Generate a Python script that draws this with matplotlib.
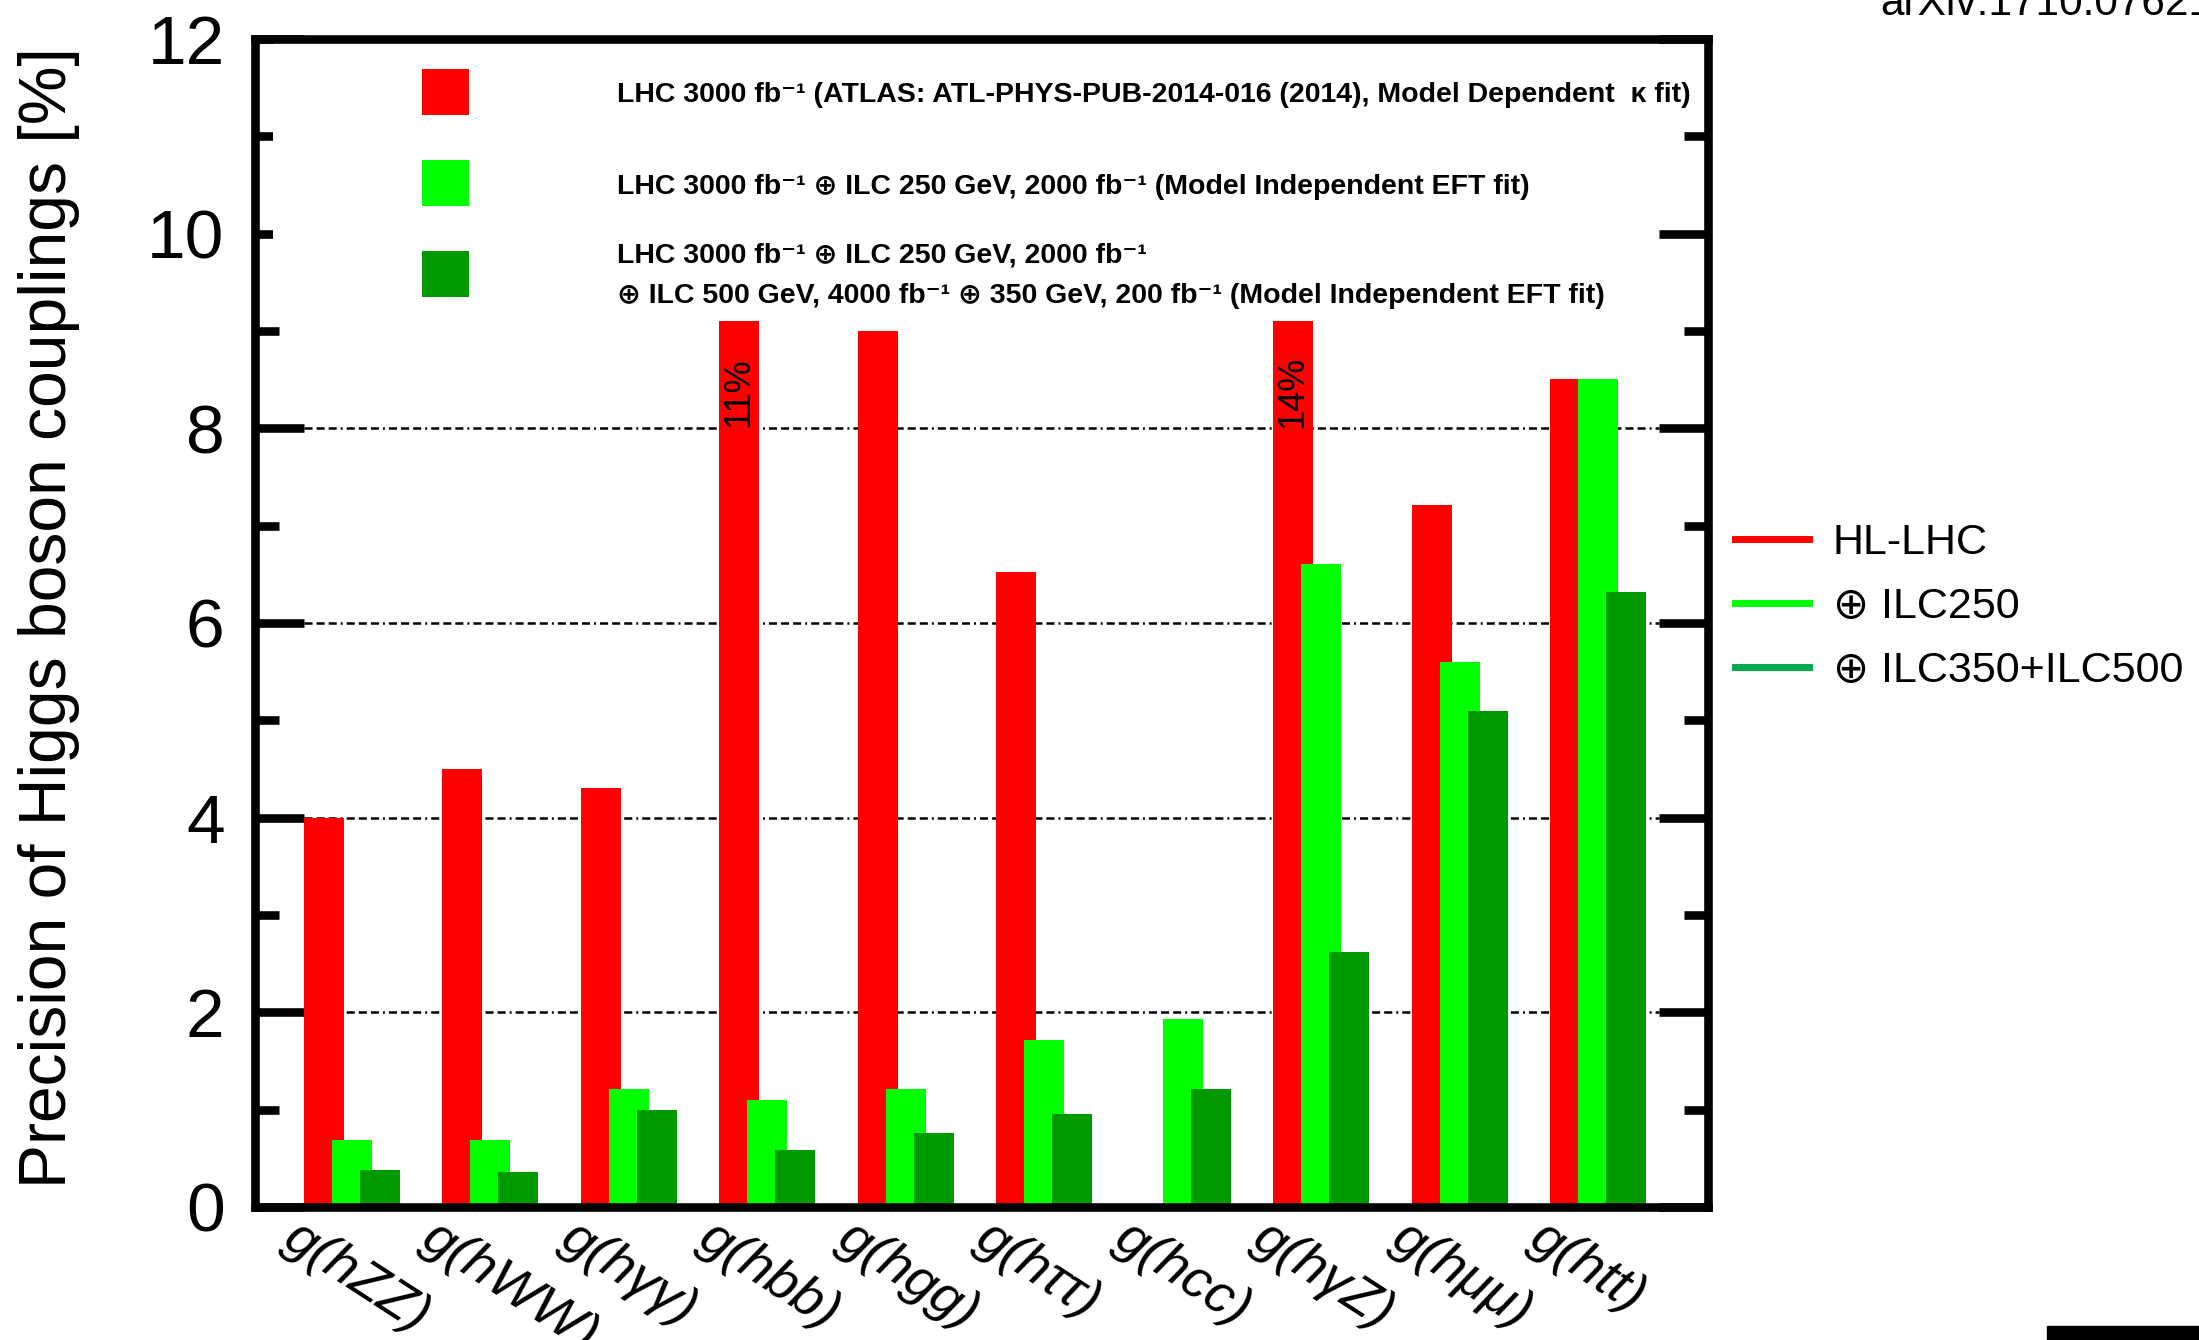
#!/usr/bin/env python3
# -*- coding: utf-8 -*-
"""
Precision of Higgs boson couplings: HL-LHC vs HL-LHC + ILC stages
"""

#%%
import numpy as np
import matplotlib as mpl
mpl.use('Agg')
import matplotlib.pyplot as plt
from matplotlib.lines import Line2D
from matplotlib.patches import Rectangle
from matplotlib.transforms import blended_transform_factory

mpl.rcParams.update({'font.family': ['Liberation Sans', 'DejaVu Sans'],
                     'lines.scale_dashes': False,
                     'axes.axisbelow': 'line'})

couplings = ['g(hZZ)', 'g(hWW)', 'g(hγγ)', 'g(hbb)', 'g(hgg)',
             'g(hττ)', 'g(hcc)', 'g(hγZ)', 'g(hμμ)', 'g(htt)']
hl_lhc = [4.0, 4.5, 4.3, 11.0, 9.0, 6.52, np.nan, 14.0, 7.21, 8.51]
ilc250 = [0.69, 0.69, 1.21, 1.10, 1.21, 1.72, 1.93, 6.61, 5.60, 8.51]
ilc500 = [0.38, 0.36, 1.0, 0.59, 0.76, 0.96, 1.21, 2.62, 5.10, 6.32]
off_scale = {3: '11%', 7: '14%'}   # values hidden behind the legend box

legend_labels = ['HL-LHC', '⊕ ILC250', '⊕ ILC350+ILC500']
key_texts = ['LHC 3000 fb⁻¹ (ATLAS: ATL-PHYS-PUB-2014-016 (2014), Model Dependent  κ fit)',
             'LHC 3000 fb⁻¹ ⊕ ILC 250 GeV, 2000 fb⁻¹ (Model Independent EFT fit)',
             'LHC 3000 fb⁻¹ ⊕ ILC 250 GeV, 2000 fb⁻¹',
             '⊕ ILC 500 GeV, 4000 fb⁻¹ ⊕ 350 GeV, 200 fb⁻¹ (Model Independent EFT fit)']
grid_levels = [2, 4, 6, 8]

red, lime, dgreen = '#ff0000', '#00ff00', '#009900'

#%%
fig = plt.figure(figsize=(21.99, 13.40), dpi=100)
ax = fig.add_axes([0.1160, 0.0993, 0.6607, 0.8716])

x = np.arange(len(couplings))
d, w = 0.203, 0.289
ax.bar(x - d, hl_lhc, w, color=red, zorder=2)
ax.bar(x, ilc250, w, color=lime, zorder=2)
ax.bar(x + d, ilc500, w, color=dgreen, zorder=2)

for lev in grid_levels:
    ax.axhline(lev, xmin=0.034, xmax=0.966, color='black', lw=1.8,
               ls=(0, (5.8, 2.9, 5.8, 2.9, 5.8, 2.9, 1.4, 2.9)), zorder=1)

ax.set_xlim(-0.698, 9.793)
ax.set_ylim(0, 12)
ax.set_xticks([])
ax.set_yticks(np.arange(0, 13, 2))
ax.set_yticks(np.arange(1, 12, 2), minor=True)
ax.tick_params(axis='y', which='both', direction='in', left=True, right=True,
               width=6.2, labelsize=50, pad=22)
ax.tick_params(axis='y', which='major', length=35)
ax.tick_params(axis='y', which='minor', length=17.5)
for s in ax.spines.values():
    s.set_linewidth(6.2)
    s.set_zorder(5)

# white legend pad hides the top of the long bars
bt = blended_transform_factory(ax.transAxes, ax.transData)
ax.add_patch(Rectangle((0.0124, 9.1), 0.951, 2.9, transform=bt,
                       facecolor='white', edgecolor='none', zorder=3))

for i, s in off_scale.items():
    ax.text(i - d, 8.37, s, rotation=90, ha='center', va='center',
            fontsize=26, zorder=4)

# legend inside the frame
key_y = [0.9349, 0.8570, 0.7791]
for c, yb in zip([red, lime, dgreen], key_y):
    ax.add_patch(Rectangle((0.1149, yb), 0.0323, 0.0394, transform=ax.transAxes,
                           facecolor=c, edgecolor='none', zorder=4))
for t, yb in zip(key_texts, [0.946, 0.8673, 0.809, 0.774]):
    ax.text(0.249, yb, t, transform=ax.transAxes, ha='left', va='baseline',
            fontsize=20.5, fontweight='bold', zorder=4)

# rotated coupling labels
bx = blended_transform_factory(ax.transData, ax.transAxes)
for i, lab in enumerate(couplings):
    ax.text(i - 0.36, -0.004, lab, transform=bx, rotation=-33, rotation_mode='anchor',
            ha='left', va='top', fontsize=39, style='italic')

handles = [Line2D([], [], color=c, lw=5) for c in [red, lime, '#00aa50']]
ax.legend(handles, legend_labels, loc='upper left', bbox_to_anchor=(0.789, 0.6094),
          bbox_transform=fig.transFigure, frameon=False, fontsize=31,
          handlelength=1.72, handletextpad=0.55, labelspacing=0.55,
          borderaxespad=0, borderpad=0)

fig.text(49 / 2199, 1 - 618 / 1340, 'Precision of Higgs boson couplings [%]',
         rotation=90, ha='center', va='center', fontsize=47.5)
fig.text(0.855, 0.9888, 'arXiv:1710.07621', fontsize=30.5, ha='left', va='baseline')
fig.add_artist(Rectangle((2047 / 2199, 0), 1 - 2047 / 2199, 14 / 1340,
                         transform=fig.transFigure, color='black'))

fig.savefig('out.png', dpi=100)
